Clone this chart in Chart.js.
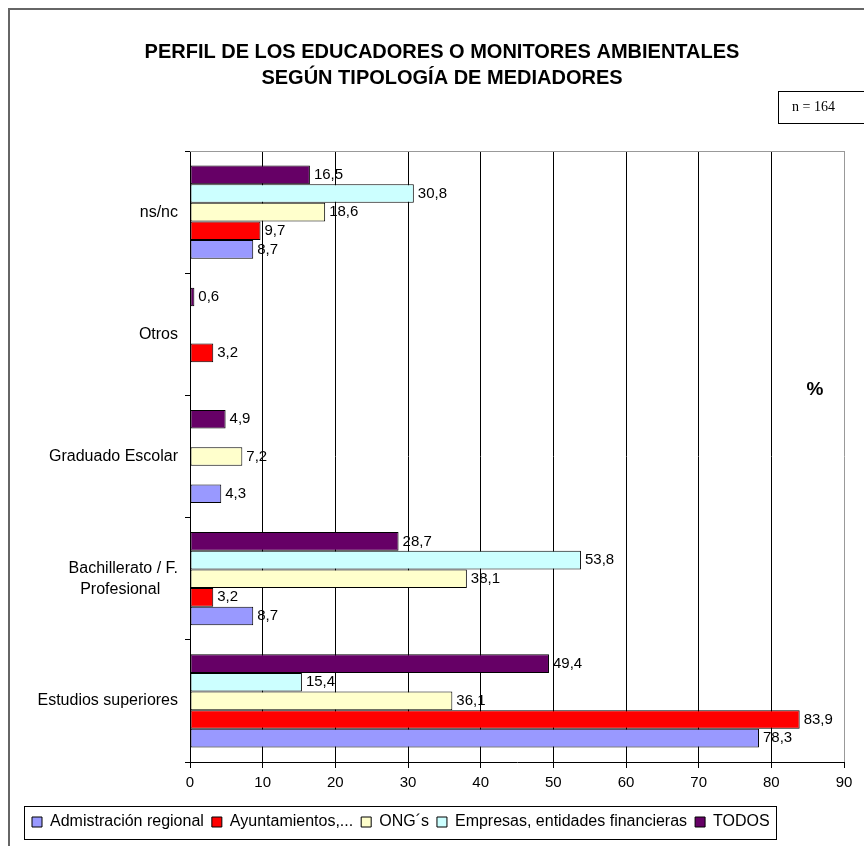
<!DOCTYPE html>
<html lang="es">
<head>
  <meta charset="UTF-8">
  <title>Perfil de los educadores o monitores ambientales</title>
  <script src="https://cdn.jsdelivr.net/npm/chart.js"></script>
  <style>
    body { margin: 0; background: #fff; }
    #chartBox { width: 864px; height: 846px; }
  </style>
</head>
<body>
  <div id="chartBox">
    <canvas id="chart" width="864" height="846"></canvas>
  </div>

  <script>
    // categories listed top to bottom, as in the picture
    const categories = ['ns/nc', 'Otros', 'Graduado Escolar', ['Bachillerato / F.', 'Profesional    '], 'Estudios superiores'];

    const seriesNames = ['Admistración regional', 'Ayuntamientos,...', 'ONG´s', 'Empresas, entidades financieras', 'TODOS'];
    const administracion = [8.7, null, 4.3, 8.7, 78.3];
    const ayuntamientos = [9.7, 3.2, null, 3.2, 83.9];
    const ongs = [18.6, null, 7.2, 38.1, 36.1];
    const empresas = [30.8, null, null, 53.8, 15.4];
    const todos = [16.5, 0.6, 4.9, 28.7, 49.4];

    const xTicks = [0, 10, 20, 30, 40, 50, 60, 70, 80, 90];
    const titleLines = ['PERFIL DE LOS EDUCADORES O MONITORES AMBIENTALES', 'SEGÚN TIPOLOGÍA DE MEDIADORES'];
    const sampleNote = 'n = 164';

    const colors = ['#9999FF', '#FF0000', '#FFFFCC', '#CCFFFF', '#660066'];
    const values = [administracion, ayuntamientos, ongs, empresas, todos];

    // dataset 0 sits at the top of each group, so feed them in reverse
    const datasets = [];
    for (let i = values.length - 1; i >= 0; i--) {
      datasets.push({
        label: seriesNames[i],
        data: values[i],
        backgroundColor: colors[i],
        borderColor: '#000',
        borderWidth: 1,
        borderSkipped: false,
        categoryPercentage: 0.763,
        barPercentage: 1.0
      });
    }

    // frame, title, n box, % sign, plot border, legend box and value labels
    const decorations = {
      id: 'decorations',
      afterDraw(chart) {
        const ctx = chart.ctx;
        const area = chart.chartArea;
        ctx.save();

        // outer frame (cropped on the right and bottom)
        ctx.strokeStyle = '#666';
        ctx.lineWidth = 2;
        ctx.strokeRect(9, 9, 900, 900);

        // title
        ctx.fillStyle = '#000';
        ctx.font = 'bold 20px "Liberation Sans", Arial, sans-serif';
        ctx.textAlign = 'center';
        ctx.textBaseline = 'middle';
        ctx.fillText(titleLines[0], 442, 52);
        ctx.fillText(titleLines[1], 442, 78);

        // n box
        ctx.strokeStyle = '#000';
        ctx.lineWidth = 1;
        ctx.strokeRect(778.5, 91.5, 120, 32);
        ctx.font = '14px "Liberation Serif", "Times New Roman", serif';
        ctx.textAlign = 'left';
        ctx.fillText(sampleNote, 792, 107);

        // % sign
        ctx.font = 'bold 19px "Liberation Sans", Arial, sans-serif';
        ctx.textAlign = 'center';
        ctx.fillText('%', 815, 390);

        // top border of the plot
        ctx.strokeStyle = '#999';
        ctx.beginPath();
        ctx.moveTo(area.left, Math.round(area.top) + 0.5);
        ctx.lineTo(area.right, Math.round(area.top) + 0.5);
        ctx.stroke();

        // legend box
        const boxes = chart.legend.legendHitBoxes;
        if (boxes && boxes.length) {
          const l = Math.min(...boxes.map(b => b.left)) - 8;
          const r = Math.max(...boxes.map(b => b.left + b.width)) + 6;
          ctx.strokeStyle = '#000';
          ctx.strokeRect(Math.round(l) + 0.5, Math.round(chart.legend.top) + 0.5,
            Math.round(r - l), Math.round(chart.legend.height) - 1);
        }

        // value labels
        ctx.fillStyle = '#000';
        ctx.font = '15px "Liberation Sans", Arial, sans-serif';
        ctx.textAlign = 'left';
        ctx.textBaseline = 'middle';
        chart.data.datasets.forEach((ds, di) => {
          const meta = chart.getDatasetMeta(di);
          meta.data.forEach((bar, i) => {
            const v = ds.data[i];
            if (v === null || v === undefined) return;
            ctx.fillText(v.toFixed(1).replace('.', ','), bar.x + 4, bar.y);
          });
        });

        ctx.restore();
      }
    };

    const ctx = document.getElementById('chart').getContext('2d');
    new Chart(ctx, {
      type: 'bar',
      data: {
        labels: categories,
        datasets: datasets
      },
      options: {
        indexAxis: 'y',
        responsive: false,
        animation: false,
        devicePixelRatio: 1,
        layout: {
          padding: { top: 151, left: 24, right: 20, bottom: 6 }
        },
        scales: {
          x: {
            type: 'linear',
            min: xTicks[0],
            max: xTicks[xTicks.length - 1],
            afterBuildTicks: (scale) => {
              scale.ticks = xTicks.map(v => ({ value: v }));
            },
            afterFit: (scale) => { scale.height = 44; },
            ticks: {
              color: '#000',
              padding: 6,
              font: { family: '"Liberation Sans", Arial, sans-serif', size: 15 }
            },
            grid: {
              color: (c) => (c.tick && c.tick.value === 90 ? '#999' : '#000'),
              tickColor: '#000',
              tickLength: 6
            },
            border: { color: '#000' }
          },
          y: {
            type: 'category',
            afterFit: (scale) => { scale.width = 166; },
            ticks: {
              color: '#000',
              padding: 7,
              font: { family: '"Liberation Sans", Arial, sans-serif', size: 16, lineHeight: 1.3 }
            },
            grid: {
              drawOnChartArea: false,
              offset: true,
              color: '#000',
              tickLength: 5
            },
            border: { color: '#000' }
          }
        },
        plugins: {
          title: { display: false },
          tooltip: { enabled: false },
          legend: {
            display: true,
            position: 'bottom',
            align: 'start',
            reverse: true,
            labels: {
              color: '#000',
              boxWidth: 10,
              boxHeight: 10,
              padding: 8,
              font: { family: '"Liberation Sans", Arial, sans-serif', size: 16 }
            }
          }
        }
      },
      plugins: [decorations]
    });
  </script>
</body>
</html>
